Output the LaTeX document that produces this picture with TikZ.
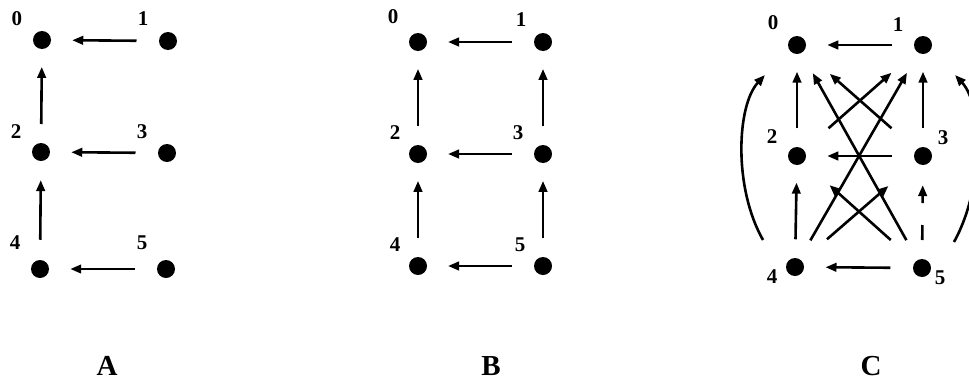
\documentclass[tikz,border=0pt]{standalone}
\usepackage{fontspec}
\setmainfont{Liberation Serif}
\usetikzlibrary{arrows.meta,calc}
\begin{document}
\begin{tikzpicture}[x=1pt,y=-1pt,
  dot/.style={circle,fill=black,inner sep=0pt,minimum size=18pt},
  lbl/.style={font=\fontsize{21}{21}\selectfont\bfseries,inner sep=0pt},
  panelcap/.style={font=\fontsize{29}{29}\selectfont\bfseries,inner sep=0pt},
  arr/.style={line width=2.6pt,-{Triangle[length=11pt,width=8.5pt]}}]
\useasboundingbox (0,0) rectangle (969,383);
\clip (0,0) rectangle (969,383);
% ---------- Panel A ----------
\node[dot] (a0) at (42,40) {};
\node[dot] (a1) at (168,41) {};
\node[dot] (a2) at (41,152) {};
\node[dot] (a3) at (167,153) {};
\node[dot] (a4) at (40,269) {};
\node[dot] (a5) at (166,269) {};
\node[lbl] (la0) at (17,19) {0};
\node[lbl] (la1) at (143,19) {1};
\node[lbl] (la2) at (16,132) {2};
\node[lbl] (la3) at (142,132) {3};
\node[lbl] (la4) at (15,243) {4};
\node[lbl] (la5) at (142,243) {5};
\draw[arr] ($(a1)!0.25!(a0)$) -- ($(a1)!0.76!(a0)$);
\draw[arr] ($(a3)!0.25!(a2)$) -- ($(a3)!0.76!(a2)$);
\draw[arr] ($(a5)!0.25!(a4)$) -- ($(a5)!0.76!(a4)$);
\draw[arr] ($(a2)!0.25!(a0)$) -- ($(a2)!0.76!(a0)$);
\draw[arr] ($(a4)!0.25!(a2)$) -- ($(a4)!0.76!(a2)$);
\node[panelcap] (capA) at (107,366) {A};
% ---------- Panel B ----------
\node[dot] (b0) at (418,42) {};
\node[dot] (b1) at (543,42) {};
\node[dot] (b2) at (418,154) {};
\node[dot] (b3) at (543,154) {};
\node[dot] (b4) at (418,266) {};
\node[dot] (b5) at (543,266) {};
\node[lbl] (lb0) at (393,17) {0};
\node[lbl] (lb1) at (521,20) {1};
\node[lbl] (lb2) at (395,133) {2};
\node[lbl] (lb3) at (518,133) {3};
\node[lbl] (lb4) at (395,245) {4};
\node[lbl] (lb5) at (520,245) {5};
\draw[arr] ($(b1)!0.25!(b0)$) -- ($(b1)!0.76!(b0)$);
\draw[arr] ($(b3)!0.25!(b2)$) -- ($(b3)!0.76!(b2)$);
\draw[arr] ($(b5)!0.25!(b4)$) -- ($(b5)!0.76!(b4)$);
\draw[arr] ($(b2)!0.25!(b0)$) -- ($(b2)!0.76!(b0)$);
\draw[arr] ($(b4)!0.25!(b2)$) -- ($(b4)!0.76!(b2)$);
\draw[arr] ($(b3)!0.25!(b1)$) -- ($(b3)!0.76!(b1)$);
\draw[arr] ($(b5)!0.25!(b3)$) -- ($(b5)!0.76!(b3)$);
\node[panelcap] (capB) at (491,366) {B};
% ---------- Panel C ----------
\node[dot] (c0) at (797,45) {};
\node[dot] (c1) at (923,45) {};
\node[dot] (c2) at (797,156) {};
\node[dot] (c3) at (923,156) {};
\node[dot] (c4) at (795,267) {};
\node[dot] (c5) at (922,268) {};
\node[lbl] (lc0) at (773,23) {0};
\node[lbl] (lc1) at (898,25) {1};
\node[lbl] (lc2) at (772,137) {2};
\node[lbl] (lc3) at (943,138) {3};
\node[lbl] (lc4) at (772,277) {4};
\node[lbl] (lc5) at (940,278) {5};
% horizontals
\draw[arr] ($(c1)!0.25!(c0)$) -- ($(c1)!0.76!(c0)$);
\draw[arr] ($(c3)!0.25!(c2)$) -- ($(c3)!0.76!(c2)$);
\draw[arr] ($(c5)!0.25!(c4)$) -- ($(c5)!0.76!(c4)$);
% verticals
\draw[arr] ($(c2)!0.25!(c0)$) -- ($(c2)!0.76!(c0)$);
\draw[arr] ($(c4)!0.25!(c2)$) -- ($(c4)!0.76!(c2)$);
\draw[arr] ($(c3)!0.25!(c1)$) -- ($(c3)!0.76!(c1)$);
\draw[arr,dash pattern=on 15pt off 22pt on 60pt] ($(c5)!0.25!(c3)$) -- ($(c5)!0.74!(c3)$);
% short diagonals
\draw[arr] ($(c2)!0.25!(c1)$) -- ($(c2)!0.75!(c1)$);
\draw[arr] ($(c3)!0.25!(c0)$) -- ($(c3)!0.74!(c0)$);
\draw[arr] ($(c4)!0.25!(c3)$) -- ($(c4)!0.73!(c3)$);
\draw[arr] ($(c5)!0.25!(c2)$) -- ($(c5)!0.74!(c2)$);
% long diagonals
\draw[arr] ($(c4)!0.12!(c1)$) -- ($(c4)!0.875!(c1)$);
\draw[arr] ($(c5)!0.125!(c0)$) -- ($(c5)!0.874!(c0)$);
% curved
\draw[arr] ($(c4)+(-32,-27)$) .. controls ($(c4)+(-62,-80)$) and ($(c0)+(-60,60)$) .. ($(c0)+(-32,30)$);
\draw[arr] ($(c5)+(32,-26)$) .. controls ($(c5)+(62,-80)$) and ($(c1)+(60,60)$) .. ($(c1)+(32,30)$);
\node[panelcap] (capC) at (871,366) {C};
\end{tikzpicture}
\end{document}
